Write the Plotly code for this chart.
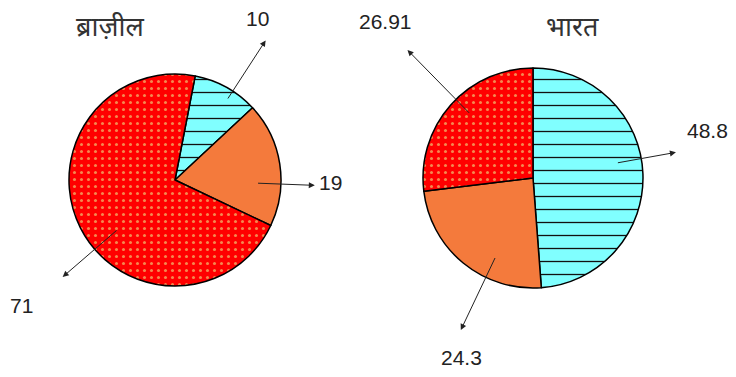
import math
import plotly.graph_objects as go

W, H = 736, 377
PAGE = 8  # body margin of the html page

titles = ["ब्राज़ील", "भारत"]
slice_names = ["क", "ख", "ग"]
brazil_values = [10, 19, 71]
india_values = [48.8, 24.3, 26.91]
brazil_text = ["10", "19", "71"]
india_text = ["48.8", "24.3", "26.91"]

colors = ["#80ffff", "#f47a3c", "#ff0000"]
pattern_shapes = ["-", "", "."]
pattern_fg = ["#111111", "#f47a3c", "#f4884f"]

# pie placement in screen pixels: centre, radius, rotation;
# leader lines start at the slice middle angle (+ a small nudge)
pies = [
    dict(values=brazil_values, text=brazil_text, title=titles[0],
         cx=175, cy=180, r=106, rot=11, title_xy=(110, 26),
         nudge=[4, 11, -14],
         r_in=[0.9, 0.77, 0.71], r_out=[1.57, 1.32, 1.4],
         off=[(-8, -22), (16, -3), (-41, 29)]),
    dict(values=india_values, text=india_text, title=titles[1],
         cx=533, cy=178, r=110, rot=0, title_xy=(572, 26),
         nudge=[-8, -14, 4],
         r_in=[0.77, 0.79, 0.81], r_out=[1.32, 1.53, 1.63],
         off=[(32, -22), (1, 27), (-22, -28)]),
]


def px(x):
    return (x - PAGE) / W


def py(y):
    return 1 - (y - PAGE) / H


fig = go.Figure()
annotations = []

for p in pies:
    fig.add_trace(go.Pie(
        labels=slice_names,
        values=p["values"],
        sort=False,
        direction="clockwise",
        rotation=p["rot"],
        textinfo="none",
        hoverinfo="none",
        showlegend=False,
        domain=dict(x=[px(p["cx"] - p["r"]), px(p["cx"] + p["r"])],
                    y=[py(p["cy"] + p["r"]), py(p["cy"] - p["r"])]),
        marker=dict(
            colors=colors,
            line=dict(color="black", width=1.5),
            pattern=dict(shape=pattern_shapes, fgcolor=pattern_fg, bgcolor=colors,
                         size=[13, 8, 7], solidity=[0.1, 0.2, 0.15]),
        ),
    ))

    total = sum(p["values"])
    cum = 0
    for i, v in enumerate(p["values"]):
        theta = math.radians(p["rot"] + 360 * (cum + v / 2) / total + p["nudge"][i])
        cum += v
        tx = p["cx"] + p["r_in"][i] * p["r"] * math.sin(theta)
        ty = p["cy"] - p["r_in"][i] * p["r"] * math.cos(theta)
        hx = p["cx"] + p["r_out"][i] * p["r"] * math.sin(theta)
        hy = p["cy"] - p["r_out"][i] * p["r"] * math.cos(theta)
        annotations.append(dict(
            xref="paper", yref="paper", x=px(hx), y=py(hy),
            ax=tx - hx, ay=ty - hy, text="", showarrow=True,
            arrowhead=2, arrowsize=1.2, arrowwidth=1, arrowcolor="#222222",
        ))
        dx, dy = p["off"][i]
        annotations.append(dict(
            xref="paper", yref="paper", x=px(hx + dx), y=py(hy + dy),
            xanchor="center", yanchor="middle",
            text=p["text"][i], showarrow=False,
            font=dict(family="Liberation Sans, Arial", size=21, color="#222222"),
        ))

    annotations.append(dict(
        xref="paper", yref="paper", x=px(p["title_xy"][0]), y=py(p["title_xy"][1]),
        xanchor="center", yanchor="middle",
        text=p["title"], showarrow=False,
        font=dict(family="Noto Sans, Lohit Devanagari, sans-serif", size=27, color="#333333"),
    ))

fig.update_layout(
    width=W, height=H,
    margin=dict(l=0, r=0, t=0, b=0),
    paper_bgcolor="white",
    plot_bgcolor="white",
    annotations=annotations,
)

fig.write_html("out.html")
